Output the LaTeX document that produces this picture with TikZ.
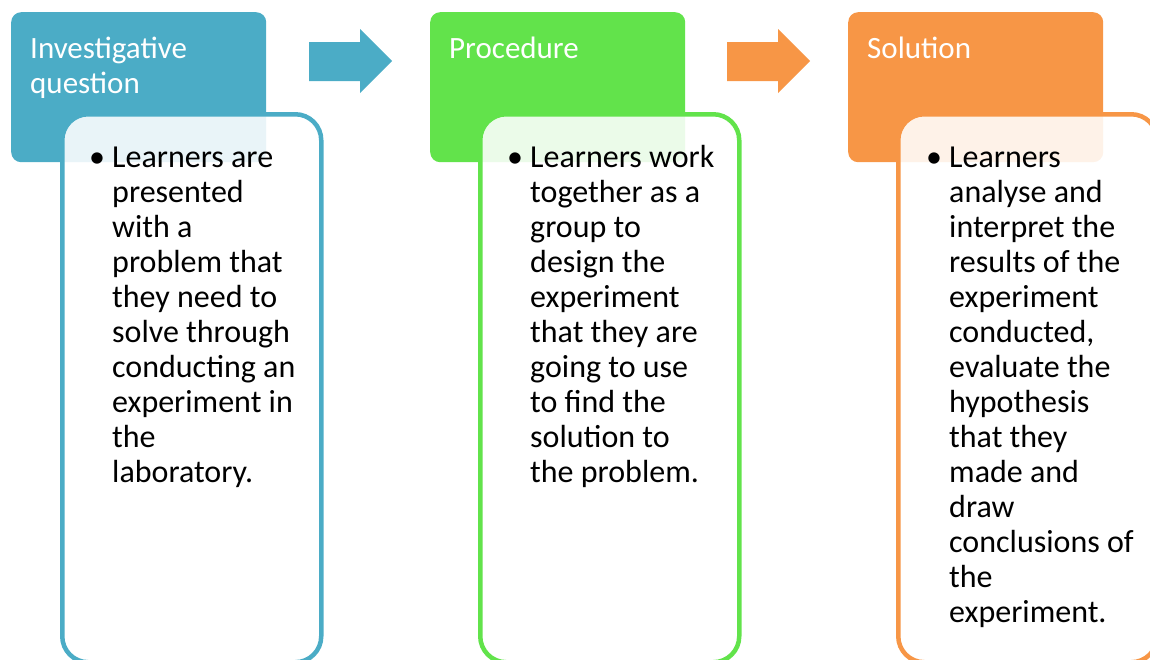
\documentclass[tikz,border=0pt]{standalone}
\usepackage{fontspec}
\setmainfont{Carlito}
\usetikzlibrary{positioning}

\definecolor{qblue}{HTML}{4BACC6}
\definecolor{qgreen}{HTML}{62E34B}
\definecolor{qorange}{HTML}{F79646}

\tikzstyle{hd} = [anchor = north west, minimum width = 255pt, minimum height = 150pt, rounded corners = 10pt, inner sep = 0pt]
\tikzstyle{bd} = [anchor = north west, minimum width = 259pt, minimum height = 548pt, rounded corners = 26pt, line width = 4.5pt, fill = white, fill opacity = 0.88, inner sep = 0pt]
\tikzstyle{ht} = [anchor = base west, align = left, text = white, font = \fontsize{31}{35}\selectfont, inner sep = 0pt]
\tikzstyle{bt} = [anchor = base west, align = left, text = black, font = \fontsize{32}{35}\selectfont, inner sep = 0pt]
\tikzstyle{bu} = [anchor = base west, text = black, font = \fontsize{32}{35}\selectfont, inner sep = 0pt]

\begin{document}
\begin{tikzpicture}[x = 1pt, y = -1pt]
        \useasboundingbox (0,0) rectangle (1150,659);
        \clip (0,0) rectangle (1150,659);

        % first column (text nodes sit on the baseline of their last line)
        \node [hd, fill = qblue] (head1) at (11,12) {};
        \node [bd, draw = qblue] (body1) at (60,112) {};
        \node [ht] (title1) at (30,93) {Investigative\\question};
        \node [bu] (dot1) at (89,167) {\textbullet};
        \node [bt] (text1) at (112,482) {Learners are\\presented\\with a\\problem that\\they need to\\solve through\\conducting an\\experiment in\\the\\laboratory.};

        % second column
        \node [hd, fill = qgreen] (head2) at (430,12) {};
        \node [bd, draw = qgreen] (body2) at (478,112) {};
        \node [ht] (title2) at (449,58) {Procedure};
        \node [bu] (dot2) at (507,167) {\textbullet};
        \node [bt] (text2) at (530,482) {Learners work\\together as a\\group to\\design the\\experiment\\that they are\\going to use\\to find the\\solution to\\the problem.};

        % third column
        \node [hd, fill = qorange] (head3) at (848,12) {};
        \node [bd, draw = qorange] (body3) at (896,112) {};
        \node [ht] (title3) at (867,58) {Solution};
        \node [bu] (dot3) at (926,167) {\textbullet};
        \node [bt] (text3) at (949,622) {Learners\\analyse and\\interpret the\\results of the\\experiment\\conducted,\\evaluate the\\hypothesis\\that they\\made and\\draw\\conclusions of\\the\\experiment.};

        % arrows between columns
        \fill [qblue] (309,42) -- (360,42) -- (360,29) -- (392,61) -- (360,93) -- (360,81) -- (309,81) -- cycle;
        \fill [qorange] (727,42) -- (778,42) -- (778,29) -- (810,61) -- (778,93) -- (778,81) -- (727,81) -- cycle;
\end{tikzpicture}
\end{document}
